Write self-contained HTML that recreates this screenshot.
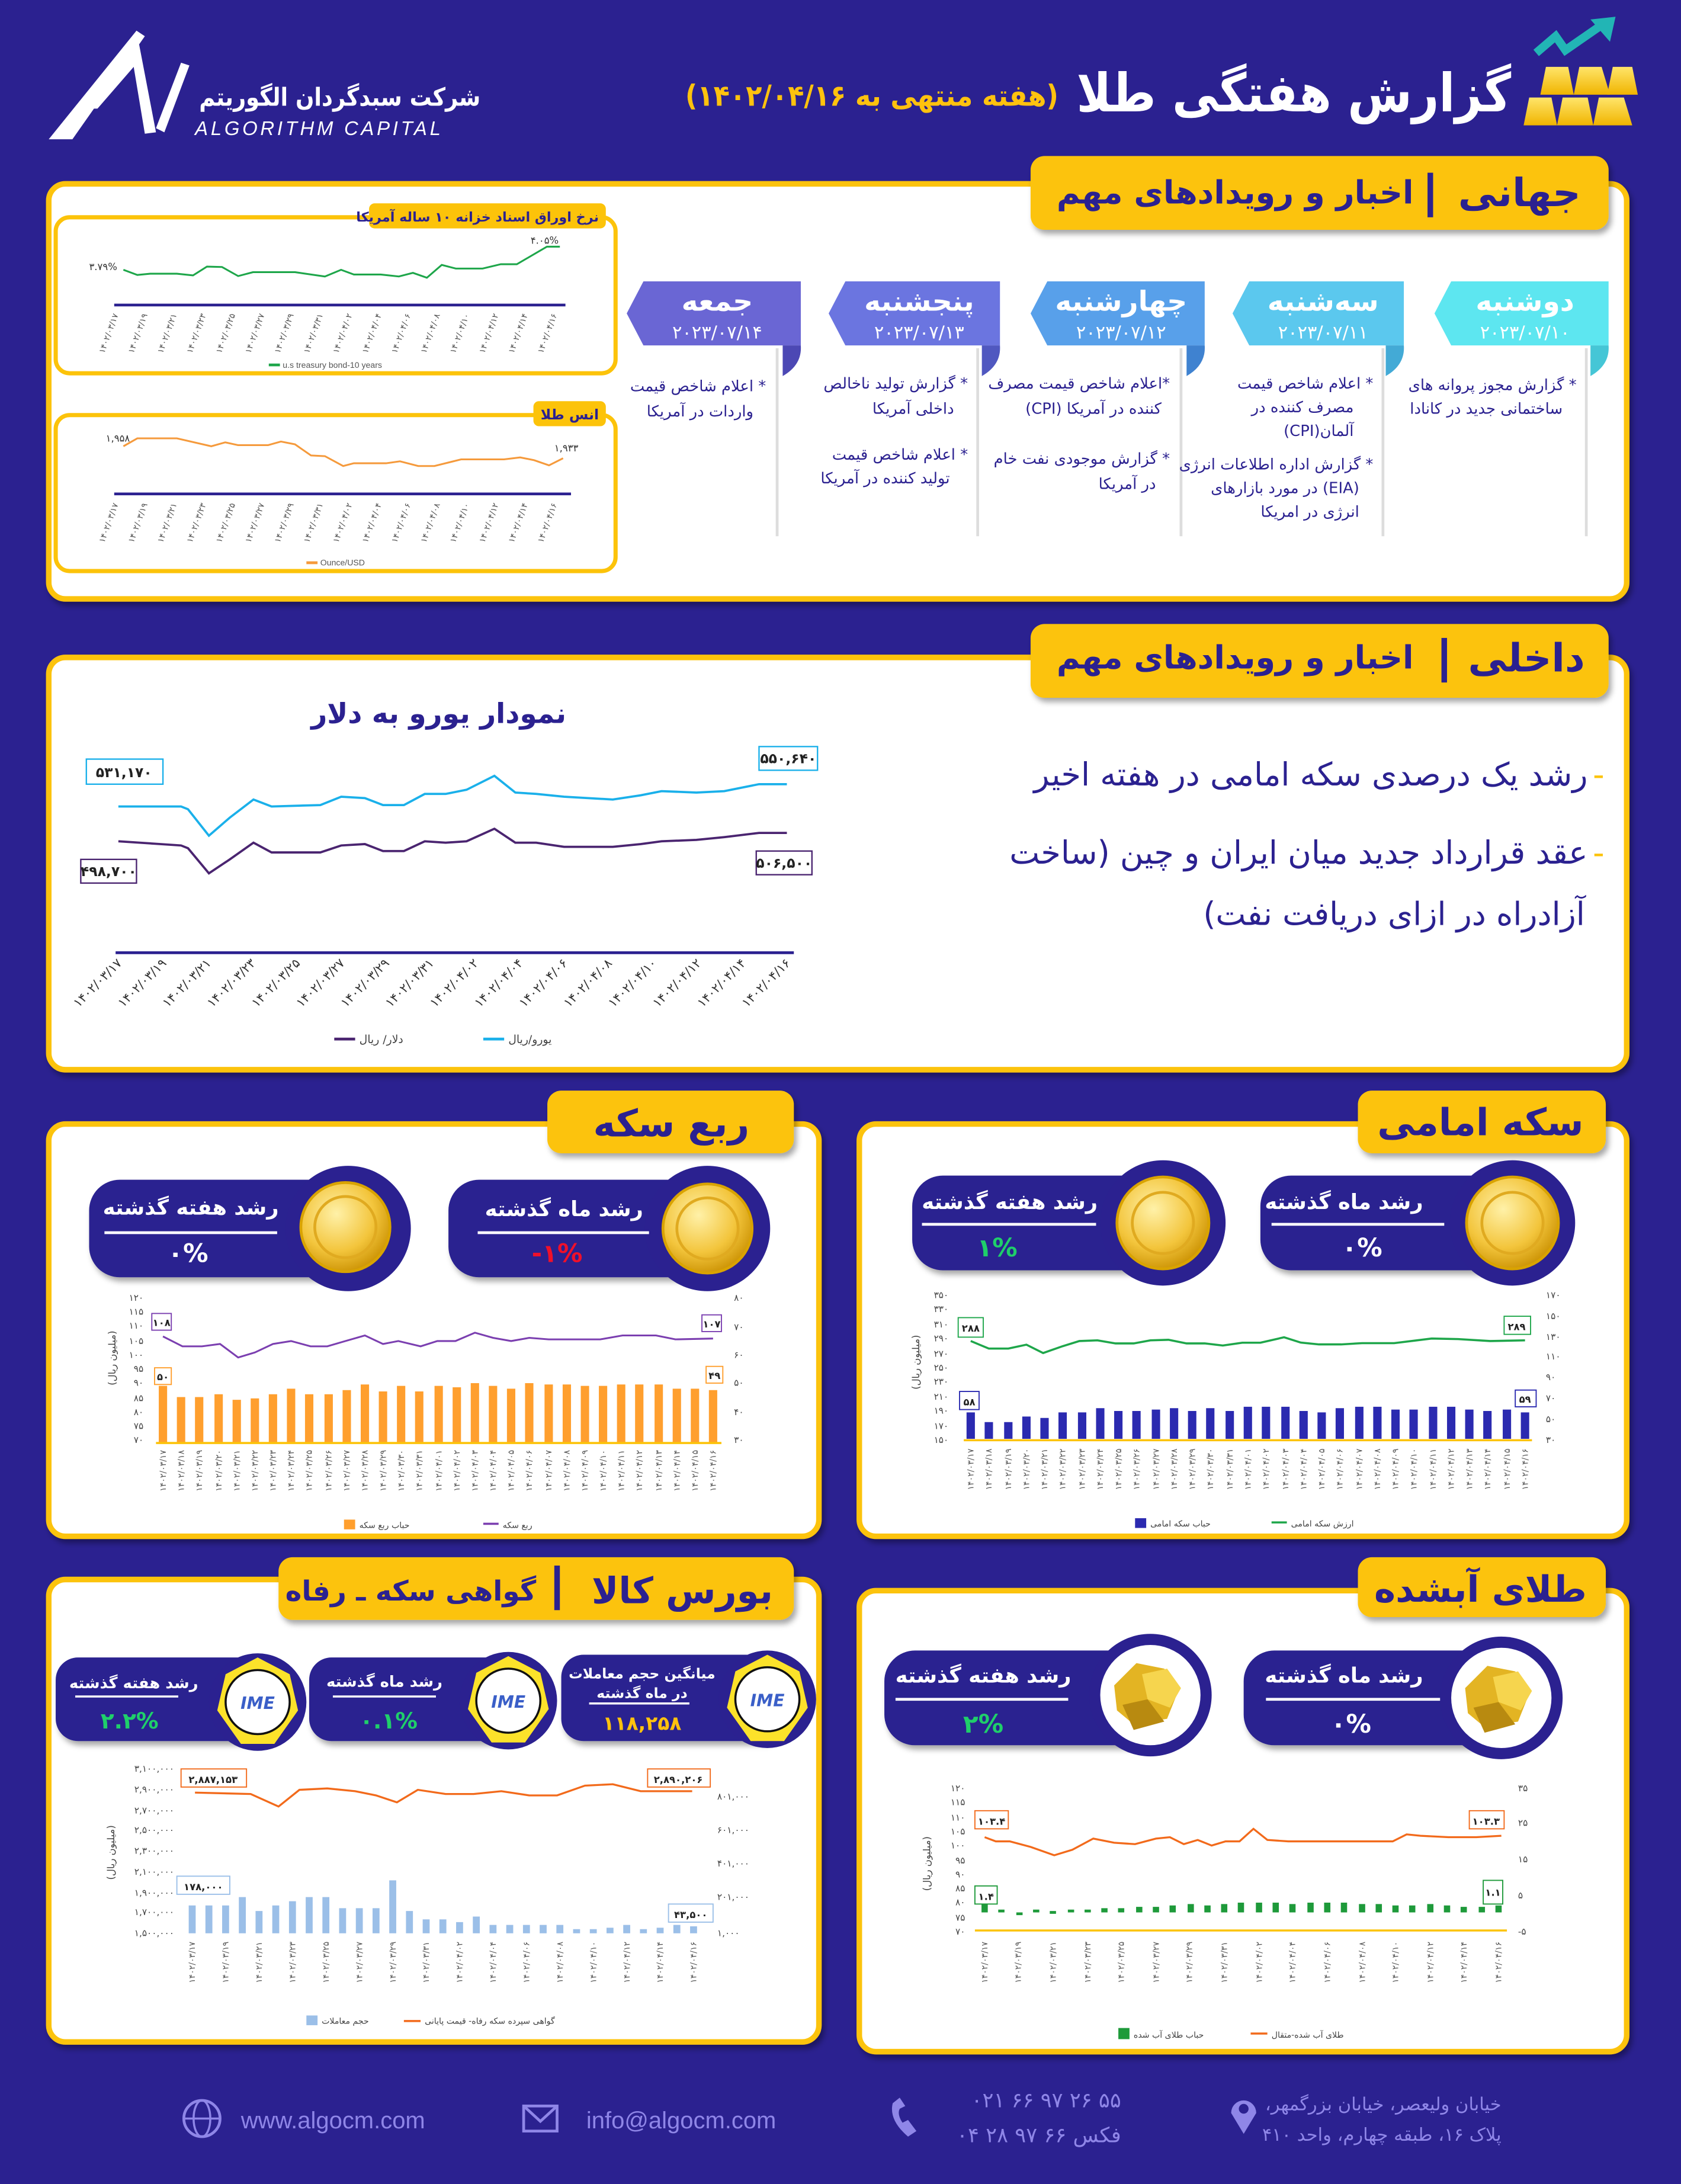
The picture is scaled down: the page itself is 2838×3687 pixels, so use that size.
<!DOCTYPE html>
<html><head><meta charset="utf-8">
<style>
html,body{margin:0;padding:0;background:#2b2190;}
svg{display:block}
text{font-family:"DejaVu Sans","Liberation Sans",sans-serif;}
.b{font-weight:bold}
.n{fill:#2b2190}
.w{fill:#fff}
.ax{font-size:6.5px;fill:#444}
.dt{font-size:6px;fill:#555}
.lg{font-size:6px;fill:#444}
</style></head><body>
<svg width="2838" height="3687" viewBox="0 0 1207 1568" preserveAspectRatio="none" xmlns="http://www.w3.org/2000/svg">
<defs>
<radialGradient id="coin" cx="40%" cy="35%" r="70%"><stop offset="0" stop-color="#fff1a8"/><stop offset="0.6" stop-color="#f3c53c"/><stop offset="1" stop-color="#c98f00"/></radialGradient>
<linearGradient id="gold" x1="0" y1="0" x2="0" y2="1"><stop offset="0" stop-color="#ffe56a"/><stop offset="1" stop-color="#f0b400"/></linearGradient>
<filter id="sh" x="-10%" y="-10%" width="120%" height="130%"><feDropShadow dx="2" dy="3" stdDeviation="2" flood-color="#000" flood-opacity="0.35"/></filter>
</defs>
<rect width="1207" height="1568" fill="#2b2190"/>

<!-- HEADER -->
<polygon points="35,100 98,22 104,26 52,100" fill="#fff"/>
<polygon points="62,78 98,22 112,95 104,96 96,48 70,78" fill="#fff"/>
<polygon points="112,92 130,45 136,47 118,95" fill="#fff"/>
<text x="345" y="76" text-anchor="end" class="b w" font-size="18" textLength="202" lengthAdjust="spacingAndGlyphs">شرکت سبدگردان الگوریتم</text>
<text x="140" y="97" font-size="14" font-style="italic" fill="#fff" letter-spacing="2" style="font-family:'Liberation Sans',sans-serif">ALGORITHM CAPITAL</text>
<text x="1085" y="80" text-anchor="end" class="b w" font-size="38" textLength="312" lengthAdjust="spacingAndGlyphs">گزارش هفتگی طلا</text>
<text x="760" y="76" direction="rtl" text-anchor="start" class="b" font-size="21" fill="#ffc20e" textLength="268" lengthAdjust="spacingAndGlyphs">(هفته منتهی به ۱۴۰۲/۰۴/۱۶)</text>
<!-- gold bars icon -->
<polygon points="1098,70 1114,70 1118,90 1094,90" fill="url(#gold)"/>
<polygon points="1122,70 1140,70 1144,90 1118,90" fill="url(#gold)"/>
<polygon points="1148,70 1166,70 1172,90 1144,90" fill="url(#gold)"/>
<polygon points="1110,48 1126,48 1130,68 1106,68" fill="url(#gold)"/>
<polygon points="1134,48 1150,48 1156,68 1130,68" fill="url(#gold)"/>
<polygon points="1158,48 1172,48 1176,68 1154,68" fill="url(#gold)"/>
<polyline points="1103,38 1117,26 1124,36 1150,18" fill="none" stroke="#22b5b5" stroke-width="6"/>
<polygon points="1142,14 1160,12 1156,30" fill="#22b5b5"/>

<!-- PANEL 1 -->
<rect x="35" y="132" width="1133" height="298" rx="12" fill="#fff" stroke="#fcc30a" stroke-width="4" filter="url(#sh)"/>
<rect x="740" y="112" width="415" height="53" rx="10" fill="#fcc30a" filter="url(#sh)"/>
<text x="1135" y="148" text-anchor="end" class="b n" font-size="28">جهانی</text>
<rect x="1025" y="124" width="4" height="32" fill="#2b2190"/>
<text x="1015" y="146" text-anchor="end" class="b n" font-size="23">اخبار و رویدادهای مهم</text>

<!-- mini chart 1 -->
<rect x="40" y="156" width="402" height="112" rx="10" fill="#fff" stroke="#fcc30a" stroke-width="3"/>
<rect x="265" y="146" width="170" height="18" rx="4" fill="#fcc30a"/>
<text x="430" y="159" text-anchor="end" class="b n" font-size="9.5">نرخ اوراق اسناد خزانه ۱۰ ساله آمریکا</text>
<polyline fill="none" stroke="#1ea64a" stroke-width="1.3" points="88.6,193.7 98.6,197.4 107.8,196.5 127,196.5 138.6,197.7 148.6,191.4 159.4,191.7 171,198.2 181.7,195.4 211.8,195.4 233.3,198.5 244.9,193.7 254.1,197.1 273.4,197.1 286.4,198.5 296.5,195.9 306.5,199.4 317.2,190.2 327.3,192.8 346.5,192.8 359.6,189.7 371.1,189.7 392.7,177.1 402,177.1"/>
<line x1="82" y1="219" x2="406" y2="219" stroke="#2b2190" stroke-width="2"/>
<text x="64" y="194" font-size="7" fill="#333">۳.۷۹%</text>
<text x="381" y="175" font-size="7" fill="#333">۴.۰۵%</text>
<g class="dt">
<text transform="translate(85,226) rotate(-70)" text-anchor="end">۱۴۰۲/۰۳/۱۷</text><text transform="translate(106,226) rotate(-70)" text-anchor="end">۱۴۰۲/۰۳/۱۹</text><text transform="translate(127,226) rotate(-70)" text-anchor="end">۱۴۰۲/۰۳/۲۱</text><text transform="translate(148,226) rotate(-70)" text-anchor="end">۱۴۰۲/۰۳/۲۳</text><text transform="translate(169,226) rotate(-70)" text-anchor="end">۱۴۰۲/۰۳/۲۵</text><text transform="translate(190,226) rotate(-70)" text-anchor="end">۱۴۰۲/۰۳/۲۷</text><text transform="translate(211,226) rotate(-70)" text-anchor="end">۱۴۰۲/۰۳/۲۹</text><text transform="translate(232,226) rotate(-70)" text-anchor="end">۱۴۰۲/۰۳/۳۱</text><text transform="translate(253,226) rotate(-70)" text-anchor="end">۱۴۰۲/۰۴/۰۲</text><text transform="translate(274,226) rotate(-70)" text-anchor="end">۱۴۰۲/۰۴/۰۴</text><text transform="translate(295,226) rotate(-70)" text-anchor="end">۱۴۰۲/۰۴/۰۶</text><text transform="translate(316,226) rotate(-70)" text-anchor="end">۱۴۰۲/۰۴/۰۸</text><text transform="translate(337,226) rotate(-70)" text-anchor="end">۱۴۰۲/۰۴/۱۰</text><text transform="translate(358,226) rotate(-70)" text-anchor="end">۱۴۰۲/۰۴/۱۲</text><text transform="translate(379,226) rotate(-70)" text-anchor="end">۱۴۰۲/۰۴/۱۴</text><text transform="translate(400,226) rotate(-70)" text-anchor="end">۱۴۰۲/۰۴/۱۶</text>
</g>
<line x1="193" y1="262" x2="201" y2="262" stroke="#1ea64a" stroke-width="2"/>
<text x="203" y="264" font-size="6" fill="#555" style="font-family:'Liberation Sans',sans-serif">u.s treasury bond-10 years</text>

<!-- mini chart 2 -->
<rect x="40" y="298" width="402" height="112" rx="10" fill="#fff" stroke="#fcc30a" stroke-width="3"/>
<rect x="383" y="288" width="52" height="18" rx="4" fill="#fcc30a"/>
<text x="430" y="301" text-anchor="end" class="b n" font-size="10">انس طلا</text>
<polyline fill="none" stroke="#f59a3c" stroke-width="1.3" points="88.6,320.4 98.6,314.7 127,314.7 151.7,320.4 161.7,317.6 170.9,319.6 192.5,319.6 201.7,317 211.8,319 223.3,327 233.3,327.5 246.4,334.6 254.1,332.6 277.2,332.6 287.2,331.2 300.3,334.6 311.9,334.6 331.1,329.8 361.9,329.8 373.5,328.4 383.5,330.4 394.2,334.1 404.3,329"/>
<line x1="82" y1="354.6" x2="410" y2="354.6" stroke="#2b2190" stroke-width="2"/>
<text x="76" y="317" font-size="7" fill="#333">۱,۹۵۸</text>
<text x="398" y="324" font-size="7" fill="#333">۱,۹۳۳</text>
<g class="dt">
<text transform="translate(85,362) rotate(-70)" text-anchor="end">۱۴۰۲/۰۳/۱۷</text><text transform="translate(106,362) rotate(-70)" text-anchor="end">۱۴۰۲/۰۳/۱۹</text><text transform="translate(127,362) rotate(-70)" text-anchor="end">۱۴۰۲/۰۳/۲۱</text><text transform="translate(148,362) rotate(-70)" text-anchor="end">۱۴۰۲/۰۳/۲۳</text><text transform="translate(169,362) rotate(-70)" text-anchor="end">۱۴۰۲/۰۳/۲۵</text><text transform="translate(190,362) rotate(-70)" text-anchor="end">۱۴۰۲/۰۳/۲۷</text><text transform="translate(211,362) rotate(-70)" text-anchor="end">۱۴۰۲/۰۳/۲۹</text><text transform="translate(232,362) rotate(-70)" text-anchor="end">۱۴۰۲/۰۳/۳۱</text><text transform="translate(253,362) rotate(-70)" text-anchor="end">۱۴۰۲/۰۴/۰۲</text><text transform="translate(274,362) rotate(-70)" text-anchor="end">۱۴۰۲/۰۴/۰۴</text><text transform="translate(295,362) rotate(-70)" text-anchor="end">۱۴۰۲/۰۴/۰۶</text><text transform="translate(316,362) rotate(-70)" text-anchor="end">۱۴۰۲/۰۴/۰۸</text><text transform="translate(337,362) rotate(-70)" text-anchor="end">۱۴۰۲/۰۴/۱۰</text><text transform="translate(358,362) rotate(-70)" text-anchor="end">۱۴۰۲/۰۴/۱۲</text><text transform="translate(379,362) rotate(-70)" text-anchor="end">۱۴۰۲/۰۴/۱۴</text><text transform="translate(400,362) rotate(-70)" text-anchor="end">۱۴۰۲/۰۴/۱۶</text>
</g>
<line x1="220" y1="404" x2="228" y2="404" stroke="#f59a3c" stroke-width="2"/>
<text x="230" y="406" font-size="6" fill="#555" style="font-family:'Liberation Sans',sans-serif">Ounce/USD</text>

<!-- day ribbons -->
<g>
<polygon points="1042,202 1155,202 1155,248 1042,248 1030,225" fill="#5de6f0"/>
<path d="M1142,248 H1155 Q1156,262 1142,270 Z" fill="#45c6d6"/>
<line x1="1139" y1="250" x2="1139" y2="385" stroke="#ddd" stroke-width="2"/>
<text x="1095" y="223" text-anchor="middle" class="b w" font-size="20">دوشنبه</text>
<text x="1095" y="243" text-anchor="middle" class="w" font-size="13">۲۰۲۳/۰۷/۱۰</text>

<polygon points="897,202 1008,202 1008,248 897,248 885,225" fill="#5bc8ee"/>
<path d="M995,248 H1008 Q1009,262 995,270 Z" fill="#43aad6"/>
<line x1="993" y1="250" x2="993" y2="385" stroke="#ddd" stroke-width="2"/>
<text x="950" y="223" text-anchor="middle" class="b w" font-size="20">سه‌شنبه</text>
<text x="950" y="243" text-anchor="middle" class="w" font-size="13">۲۰۲۳/۰۷/۱۱</text>

<polygon points="752,202 865,202 865,248 752,248 740,225" fill="#58a0ea"/>
<path d="M852,248 H865 Q866,262 852,270 Z" fill="#3f82d0"/>
<line x1="848" y1="250" x2="848" y2="385" stroke="#ddd" stroke-width="2"/>
<text x="805" y="223" text-anchor="middle" class="b w" font-size="20">چهارشنبه</text>
<text x="805" y="243" text-anchor="middle" class="w" font-size="13">۲۰۲۳/۰۷/۱۲</text>

<polygon points="607,202 718,202 718,248 607,248 595,225" fill="#6b75e0"/>
<path d="M705,248 H718 Q719,262 705,270 Z" fill="#5058c0"/>
<line x1="702" y1="250" x2="702" y2="385" stroke="#ddd" stroke-width="2"/>
<text x="660" y="223" text-anchor="middle" class="b w" font-size="20">پنجشنبه</text>
<text x="660" y="243" text-anchor="middle" class="w" font-size="13">۲۰۲۳/۰۷/۱۳</text>

<polygon points="462,202 575,202 575,248 462,248 450,225" fill="#6a66d4"/>
<path d="M562,248 H575 Q576,262 562,270 Z" fill="#4c48b4"/>
<line x1="558" y1="250" x2="558" y2="385" stroke="#ddd" stroke-width="2"/>
<text x="515" y="223" text-anchor="middle" class="b w" font-size="20">جمعه</text>
<text x="515" y="243" text-anchor="middle" class="w" font-size="13">۲۰۲۳/۰۷/۱۴</text>
</g>
<g class="n" font-size="11" direction="rtl" text-anchor="start">
<text x="1132" y="280">* گزارش مجوز پروانه های</text>
<text x="1122" y="297">ساختمانی جدید در کانادا</text>
<text x="986" y="279">* اعلام شاخص قیمت</text>
<text x="972" y="296">مصرف کننده در</text>
<text x="972" y="313">آلمان(CPI)</text>
<text x="986" y="337">* گزارش اداره اطلاعات انرژی</text>
<text x="976" y="354">(EIA) در مورد بازارهای</text>
<text x="976" y="371">انرژی در امریکا</text>
<text x="840" y="279">*اعلام شاخص قیمت مصرف</text>
<text x="834" y="297">کننده در آمریکا (CPI)</text>
<text x="840" y="333">* گزارش موجودی نفت خام</text>
<text x="830" y="351">در آمریکا</text>
<text x="695" y="279">* گزارش تولید ناخالص</text>
<text x="685" y="297">داخلی آمریکا</text>
<text x="695" y="330">* اعلام شاخص قیمت</text>
<text x="682" y="347">تولید کننده در آمریکا</text>
<text x="550" y="281">* اعلام شاخص قیمت</text>
<text x="541" y="299">واردات در آمریکا</text>
</g>

<!-- PANEL 2 -->
<rect x="35" y="472" width="1133" height="296" rx="12" fill="#fff" stroke="#fcc30a" stroke-width="4" filter="url(#sh)"/>
<rect x="740" y="448" width="415" height="53" rx="10" fill="#fcc30a" filter="url(#sh)"/>
<text x="1138" y="482" text-anchor="end" class="b n" font-size="28">داخلی</text>
<rect x="1035" y="458" width="4" height="32" fill="#2b2190"/>
<text x="1015" y="480" text-anchor="end" class="b n" font-size="23">اخبار و رویدادهای مهم</text>
<text x="315" y="519" text-anchor="middle" class="b n" font-size="20">نمودار یورو به دلار</text>
<polyline fill="none" stroke="#1ab0ea" stroke-width="1.6" points="85,579 130,579 135,581 150,600 165,587 182,574 195,579 230,578 245,572 262,573 275,578 290,578 305,570 320,570 335,567 355,557 370,569 385,570 405,572 440,574 460,571 475,568 500,569 520,568 545,563 565,563"/>
<polyline fill="none" stroke="#4a2470" stroke-width="1.6" points="85,604 130,607 135,609 150,627 165,617 182,605 195,612 230,612 245,607 262,606 275,611 290,611 305,604 320,605 335,604 355,595 370,605 385,605 405,608 440,608 460,606 475,604 500,603 520,601 545,598 565,598"/>
<line x1="83" y1="684" x2="570" y2="684" stroke="#2b2190" stroke-width="2"/>
<rect x="62" y="545" width="55" height="18" fill="#fff" stroke="#1ab0ea"/><text x="89" y="558" text-anchor="middle" font-size="10" class="b" fill="#222">۵۳۱,۱۷۰</text>
<rect x="545" y="536" width="42" height="17" fill="#fff" stroke="#1ab0ea"/><text x="566" y="548" text-anchor="middle" font-size="10" class="b" fill="#222">۵۵۰,۶۴۰</text>
<rect x="58" y="617" width="40" height="17" fill="#fff" stroke="#4a2470"/><text x="78" y="629" text-anchor="middle" font-size="10" class="b" fill="#222">۴۹۸,۷۰۰</text>
<rect x="543" y="611" width="40" height="17" fill="#fff" stroke="#4a2470"/><text x="563" y="623" text-anchor="middle" font-size="10" class="b" fill="#222">۵۰۶,۵۰۰</text>
<g font-size="9" fill="#333">
<text transform="translate(88,692) rotate(-45)" text-anchor="end">۱۴۰۲/۰۳/۱۷</text><text transform="translate(120,692) rotate(-45)" text-anchor="end">۱۴۰۲/۰۳/۱۹</text><text transform="translate(152,692) rotate(-45)" text-anchor="end">۱۴۰۲/۰۳/۲۱</text><text transform="translate(184,692) rotate(-45)" text-anchor="end">۱۴۰۲/۰۳/۲۳</text><text transform="translate(216,692) rotate(-45)" text-anchor="end">۱۴۰۲/۰۳/۲۵</text><text transform="translate(248,692) rotate(-45)" text-anchor="end">۱۴۰۲/۰۳/۲۷</text><text transform="translate(280,692) rotate(-45)" text-anchor="end">۱۴۰۲/۰۳/۲۹</text><text transform="translate(312,692) rotate(-45)" text-anchor="end">۱۴۰۲/۰۳/۳۱</text><text transform="translate(344,692) rotate(-45)" text-anchor="end">۱۴۰۲/۰۴/۰۲</text><text transform="translate(376,692) rotate(-45)" text-anchor="end">۱۴۰۲/۰۴/۰۴</text><text transform="translate(408,692) rotate(-45)" text-anchor="end">۱۴۰۲/۰۴/۰۶</text><text transform="translate(440,692) rotate(-45)" text-anchor="end">۱۴۰۲/۰۴/۰۸</text><text transform="translate(472,692) rotate(-45)" text-anchor="end">۱۴۰۲/۰۴/۱۰</text><text transform="translate(504,692) rotate(-45)" text-anchor="end">۱۴۰۲/۰۴/۱۲</text><text transform="translate(536,692) rotate(-45)" text-anchor="end">۱۴۰۲/۰۴/۱۴</text><text transform="translate(568,692) rotate(-45)" text-anchor="end">۱۴۰۲/۰۴/۱۶</text>
</g>
<line x1="240" y1="746" x2="255" y2="746" stroke="#4a2470" stroke-width="2"/><text x="258" y="749" font-size="8" fill="#444">دلار/ ریال</text>
<line x1="347" y1="746" x2="362" y2="746" stroke="#1ab0ea" stroke-width="2"/><text x="365" y="749" font-size="8" fill="#444">یورو/ریال</text>
<g direction="rtl" text-anchor="start">
<text x="1140" y="564" class="n" font-size="23">رشد یک درصدی سکه امامی در هفته اخیر</text>
<text x="1140" y="620" class="n" font-size="23">عقد قرارداد جدید میان ایران و چین (ساخت</text>
<text x="1138" y="664" class="n" font-size="23">آزادراه در ازای دریافت نفت)</text>
</g>
<text x="1152" y="564" text-anchor="end" font-size="23" fill="#fcc30a">-</text>
<text x="1152" y="620" text-anchor="end" font-size="23" fill="#fcc30a">-</text>

<!-- PANEL 3: rob seke -->
<rect x="35" y="807" width="553" height="296" rx="12" fill="#fff" stroke="#fcc30a" stroke-width="4" filter="url(#sh)"/>
<rect x="393" y="783" width="177" height="45" rx="10" fill="#fcc30a" filter="url(#sh)"/>
<text x="482" y="816" text-anchor="middle" class="b n" font-size="27">ربع سکه</text>
<rect x="322" y="847" width="200" height="70" rx="22" fill="#2b2190" filter="url(#sh)"/>
<circle cx="508" cy="882" r="45" fill="#2b2190"/>
<circle cx="508" cy="882" r="32" fill="url(#coin)" stroke="#d9a300" stroke-width="2"/>
<circle cx="508" cy="882" r="22" fill="none" stroke="#e0aa20" stroke-width="2"/>
<text x="405" y="873" text-anchor="middle" class="b w" font-size="15">رشد ماه گذشته</text>
<line x1="343" y1="885" x2="466" y2="885" stroke="#fff" stroke-width="2"/>
<text x="400" y="906" text-anchor="middle" class="b" font-size="18" fill="#f0102a">-۱%</text>
<rect x="64" y="847" width="200" height="70" rx="22" fill="#2b2190" filter="url(#sh)"/>
<circle cx="250" cy="882" r="45" fill="#2b2190"/>
<circle cx="248" cy="881" r="32" fill="url(#coin)" stroke="#d9a300" stroke-width="2"/>
<circle cx="248" cy="881" r="22" fill="none" stroke="#e0aa20" stroke-width="2"/>
<text x="137" y="872" text-anchor="middle" class="b w" font-size="15">رشد هفته گذشته</text>
<line x1="75" y1="885" x2="199" y2="885" stroke="#fff" stroke-width="2"/>
<text x="135" y="906" text-anchor="middle" class="b w" font-size="18">۰%</text>
<path fill="none" stroke="#ff9f2e" stroke-width="6" d="M117 995V1036M130 1003V1036M143 1003V1036M157 1001V1036M170 1005V1036M183 1004V1036M196 1001V1036M209 997V1036M222 1001V1036M236 1001V1036M249 998V1036M262 994V1036M275 999V1036M288 995V1036M301 999V1036M315 995V1036M328 996V1036M341 993V1036M354 995V1036M367 997V1036M380 993V1036M394 994V1036M407 994V1036M420 995V1036M433 995V1036M446 994V1036M459 994V1036M473 994V1036M486 997V1036M499 997V1036M512 998V1036"/>
<line x1="112" y1="1036" x2="518" y2="1036" stroke="#fcc30a" stroke-width="1.5"/>
<polyline fill="none" stroke="#7b3fb0" stroke-width="1.3" points="117,959.5 131,966.6 145,966.6 158,964.9 171,974.6 183,971 196,964.9 209,962.8 223,966.6 235,966.6 248,962.8 262,958.8 275,964.9 286,962.8 302,966.6 314,962.8 327,962.8 341,956.8 354,960.5 367,962.8 380,960.5 394,961.6 431,961.6 447,958.8 471,958.8 485,961.6 512,961"/>
<rect x="109" y="943" width="14" height="12" fill="#fff" stroke="#7b3fb0" stroke-width="0.8"/><text x="116" y="952" text-anchor="middle" font-size="7" class="b" fill="#222">۱۰۸</text>
<rect x="504" y="944" width="14" height="12" fill="#fff" stroke="#7b3fb0" stroke-width="0.8"/><text x="511" y="953" text-anchor="middle" font-size="7" class="b" fill="#222">۱۰۷</text>
<rect x="111" y="982" width="12" height="12" fill="#fff" stroke="#ff9f2e" stroke-width="0.8"/><text x="117" y="991" text-anchor="middle" font-size="7" class="b" fill="#222">۵۰</text>
<rect x="507" y="981" width="12" height="12" fill="#fff" stroke="#ff9f2e" stroke-width="0.8"/><text x="513" y="990" text-anchor="middle" font-size="7" class="b" fill="#222">۴۹</text>
<g class="ax" text-anchor="end">
<text x="103" y="934">۱۲۰</text><text x="103" y="944">۱۱۵</text><text x="103" y="954">۱۱۰</text><text x="103" y="965">۱۰۵</text><text x="103" y="975">۱۰۰</text><text x="103" y="985">۹۵</text><text x="103" y="995">۹۰</text><text x="103" y="1006">۸۵</text><text x="103" y="1016">۸۰</text><text x="103" y="1026">۷۵</text><text x="103" y="1036">۷۰</text>
</g>
<g class="ax"><text x="527" y="934">۸۰</text><text x="527" y="955">۷۰</text><text x="527" y="975">۶۰</text><text x="527" y="995">۵۰</text><text x="527" y="1016">۴۰</text><text x="527" y="1036">۳۰</text></g>
<text transform="translate(83,975) rotate(-90)" direction="rtl" text-anchor="middle" font-size="7" fill="#444">(میلیون ریال)</text>
<g class="dt">
<text transform="translate(119,1041) rotate(-90)" text-anchor="end">۱۴۰۲/۰۳/۱۷</text><text transform="translate(132,1041) rotate(-90)" text-anchor="end">۱۴۰۲/۰۳/۱۸</text><text transform="translate(145,1041) rotate(-90)" text-anchor="end">۱۴۰۲/۰۳/۱۹</text><text transform="translate(159,1041) rotate(-90)" text-anchor="end">۱۴۰۲/۰۳/۲۰</text><text transform="translate(172,1041) rotate(-90)" text-anchor="end">۱۴۰۲/۰۳/۲۱</text><text transform="translate(185,1041) rotate(-90)" text-anchor="end">۱۴۰۲/۰۳/۲۲</text><text transform="translate(198,1041) rotate(-90)" text-anchor="end">۱۴۰۲/۰۳/۲۳</text><text transform="translate(211,1041) rotate(-90)" text-anchor="end">۱۴۰۲/۰۳/۲۴</text><text transform="translate(224,1041) rotate(-90)" text-anchor="end">۱۴۰۲/۰۳/۲۵</text><text transform="translate(238,1041) rotate(-90)" text-anchor="end">۱۴۰۲/۰۳/۲۶</text><text transform="translate(251,1041) rotate(-90)" text-anchor="end">۱۴۰۲/۰۳/۲۷</text><text transform="translate(264,1041) rotate(-90)" text-anchor="end">۱۴۰۲/۰۳/۲۸</text><text transform="translate(277,1041) rotate(-90)" text-anchor="end">۱۴۰۲/۰۳/۲۹</text><text transform="translate(290,1041) rotate(-90)" text-anchor="end">۱۴۰۲/۰۳/۳۰</text><text transform="translate(303,1041) rotate(-90)" text-anchor="end">۱۴۰۲/۰۳/۳۱</text><text transform="translate(317,1041) rotate(-90)" text-anchor="end">۱۴۰۲/۰۴/۰۱</text><text transform="translate(330,1041) rotate(-90)" text-anchor="end">۱۴۰۲/۰۴/۰۲</text><text transform="translate(343,1041) rotate(-90)" text-anchor="end">۱۴۰۲/۰۴/۰۳</text><text transform="translate(356,1041) rotate(-90)" text-anchor="end">۱۴۰۲/۰۴/۰۴</text><text transform="translate(369,1041) rotate(-90)" text-anchor="end">۱۴۰۲/۰۴/۰۵</text><text transform="translate(382,1041) rotate(-90)" text-anchor="end">۱۴۰۲/۰۴/۰۶</text><text transform="translate(396,1041) rotate(-90)" text-anchor="end">۱۴۰۲/۰۴/۰۷</text><text transform="translate(409,1041) rotate(-90)" text-anchor="end">۱۴۰۲/۰۴/۰۸</text><text transform="translate(422,1041) rotate(-90)" text-anchor="end">۱۴۰۲/۰۴/۰۹</text><text transform="translate(435,1041) rotate(-90)" text-anchor="end">۱۴۰۲/۰۴/۱۰</text><text transform="translate(448,1041) rotate(-90)" text-anchor="end">۱۴۰۲/۰۴/۱۱</text><text transform="translate(461,1041) rotate(-90)" text-anchor="end">۱۴۰۲/۰۴/۱۲</text><text transform="translate(475,1041) rotate(-90)" text-anchor="end">۱۴۰۲/۰۴/۱۳</text><text transform="translate(488,1041) rotate(-90)" text-anchor="end">۱۴۰۲/۰۴/۱۴</text><text transform="translate(501,1041) rotate(-90)" text-anchor="end">۱۴۰۲/۰۴/۱۵</text><text transform="translate(514,1041) rotate(-90)" text-anchor="end">۱۴۰۲/۰۴/۱۶</text>
</g>
<rect x="247" y="1091" width="8" height="7" fill="#ff9f2e"/><text x="258" y="1097" class="lg">حباب ربع سکه</text>
<line x1="347" y1="1094" x2="358" y2="1094" stroke="#7b3fb0" stroke-width="1.5"/><text x="361" y="1097" class="lg">ربع سکه</text>

<!-- PANEL 4: emami -->
<rect x="617" y="807" width="551" height="296" rx="12" fill="#fff" stroke="#fcc30a" stroke-width="4" filter="url(#sh)"/>
<rect x="975" y="783" width="178" height="45" rx="10" fill="#fcc30a" filter="url(#sh)"/>
<text x="1063" y="815" text-anchor="middle" class="b n" font-size="27">سکه امامی</text>
<rect x="905" y="844" width="200" height="68" rx="22" fill="#2b2190" filter="url(#sh)"/>
<circle cx="1086" cy="878" r="45" fill="#2b2190"/>
<circle cx="1086" cy="878" r="33" fill="url(#coin)" stroke="#d9a300" stroke-width="2"/>
<circle cx="1086" cy="878" r="22" fill="none" stroke="#e0aa20" stroke-width="2"/>
<text x="965" y="868" text-anchor="middle" class="b w" font-size="15">رشد ماه گذشته</text>
<line x1="913" y1="879" x2="1037" y2="879" stroke="#fff" stroke-width="2"/>
<text x="978" y="902" text-anchor="middle" class="b w" font-size="18">۰%</text>
<rect x="655" y="844" width="200" height="68" rx="22" fill="#2b2190" filter="url(#sh)"/>
<circle cx="835" cy="878" r="45" fill="#2b2190"/>
<circle cx="835" cy="878" r="33" fill="url(#coin)" stroke="#d9a300" stroke-width="2"/>
<circle cx="835" cy="878" r="22" fill="none" stroke="#e0aa20" stroke-width="2"/>
<text x="725" y="868" text-anchor="middle" class="b w" font-size="15">رشد هفته گذشته</text>
<line x1="662" y1="879" x2="787" y2="879" stroke="#fff" stroke-width="2"/>
<text x="716" y="902" text-anchor="middle" class="b" font-size="18" fill="#1fcf6a">۱%</text>
<path fill="none" stroke="#2b2ab0" stroke-width="6" d="M697 1014V1033M710 1021V1033M724 1021V1033M737 1017V1033M750 1018V1033M763 1014V1033M777 1014V1033M790 1011V1033M803 1013V1033M816 1013V1033M830 1012V1033M843 1011V1033M856 1013V1033M869 1011V1033M883 1013V1033M896 1010V1033M909 1010V1033M923 1010V1033M936 1013V1033M949 1014V1033M962 1011V1033M976 1010V1033M989 1010V1033M1002 1012V1033M1015 1012V1033M1029 1010V1033M1042 1010V1033M1055 1012V1033M1068 1013V1033M1082 1012V1033M1095 1014V1033"/>
<line x1="692" y1="1034" x2="1100" y2="1034" stroke="#fcc30a" stroke-width="1.5"/>
<polyline fill="none" stroke="#1ea64a" stroke-width="1.5" points="697,962.8 710,968.2 724,968.2 737,965.4 749,971.4 763,966.5 775,962.8 788,962.3 801,964.5 814,964.5 826,962.3 839,961.9 852,964.5 865,964.5 878,966 892,964 905,964 922,960.1 934,963.9 947,965.2 963,965.2 978,964.3 1001,964.3 1028,961 1047,961.4 1070,962.8 1095,962.3"/>
<rect x="688" y="946" width="18" height="14" fill="#fff" stroke="#1ea64a" stroke-width="0.8"/><text x="697" y="956" text-anchor="middle" font-size="7" class="b" fill="#222">۲۸۸</text>
<rect x="1080" y="945" width="19" height="13" fill="#fff" stroke="#1ea64a" stroke-width="0.8"/><text x="1089" y="955" text-anchor="middle" font-size="7" class="b" fill="#222">۲۸۹</text>
<rect x="689" y="999" width="14" height="13" fill="#fff" stroke="#2b2ab0" stroke-width="0.8"/><text x="696" y="1009" text-anchor="middle" font-size="7" class="b" fill="#222">۵۸</text>
<rect x="1088" y="998" width="15" height="12" fill="#fff" stroke="#2b2ab0" stroke-width="0.8"/><text x="1095" y="1007" text-anchor="middle" font-size="7" class="b" fill="#222">۵۹</text>
<g class="ax" text-anchor="end">
<text x="681" y="932">۳۵۰</text><text x="681" y="942">۳۳۰</text><text x="681" y="953">۳۱۰</text><text x="681" y="963">۲۹۰</text><text x="681" y="974">۲۷۰</text><text x="681" y="984">۲۵۰</text><text x="681" y="994">۲۳۰</text><text x="681" y="1005">۲۱۰</text><text x="681" y="1015">۱۹۰</text><text x="681" y="1026">۱۷۰</text><text x="681" y="1036">۱۵۰</text>
</g>
<g class="ax"><text x="1110" y="932">۱۷۰</text><text x="1110" y="947">۱۵۰</text><text x="1110" y="962">۱۳۰</text><text x="1110" y="976">۱۱۰</text><text x="1110" y="991">۹۰</text><text x="1110" y="1006">۷۰</text><text x="1110" y="1021">۵۰</text><text x="1110" y="1036">۳۰</text></g>
<text transform="translate(660,978) rotate(-90)" direction="rtl" text-anchor="middle" font-size="7" fill="#444">(میلیون ریال)</text>
<g class="dt">
<text transform="translate(699,1040) rotate(-90)" text-anchor="end">۱۴۰۲/۰۳/۱۷</text><text transform="translate(712,1040) rotate(-90)" text-anchor="end">۱۴۰۲/۰۳/۱۸</text><text transform="translate(726,1040) rotate(-90)" text-anchor="end">۱۴۰۲/۰۳/۱۹</text><text transform="translate(739,1040) rotate(-90)" text-anchor="end">۱۴۰۲/۰۳/۲۰</text><text transform="translate(752,1040) rotate(-90)" text-anchor="end">۱۴۰۲/۰۳/۲۱</text><text transform="translate(765,1040) rotate(-90)" text-anchor="end">۱۴۰۲/۰۳/۲۲</text><text transform="translate(779,1040) rotate(-90)" text-anchor="end">۱۴۰۲/۰۳/۲۳</text><text transform="translate(792,1040) rotate(-90)" text-anchor="end">۱۴۰۲/۰۳/۲۴</text><text transform="translate(805,1040) rotate(-90)" text-anchor="end">۱۴۰۲/۰۳/۲۵</text><text transform="translate(818,1040) rotate(-90)" text-anchor="end">۱۴۰۲/۰۳/۲۶</text><text transform="translate(832,1040) rotate(-90)" text-anchor="end">۱۴۰۲/۰۳/۲۷</text><text transform="translate(845,1040) rotate(-90)" text-anchor="end">۱۴۰۲/۰۳/۲۸</text><text transform="translate(858,1040) rotate(-90)" text-anchor="end">۱۴۰۲/۰۳/۲۹</text><text transform="translate(871,1040) rotate(-90)" text-anchor="end">۱۴۰۲/۰۳/۳۰</text><text transform="translate(885,1040) rotate(-90)" text-anchor="end">۱۴۰۲/۰۳/۳۱</text><text transform="translate(898,1040) rotate(-90)" text-anchor="end">۱۴۰۲/۰۴/۰۱</text><text transform="translate(911,1040) rotate(-90)" text-anchor="end">۱۴۰۲/۰۴/۰۲</text><text transform="translate(925,1040) rotate(-90)" text-anchor="end">۱۴۰۲/۰۴/۰۳</text><text transform="translate(938,1040) rotate(-90)" text-anchor="end">۱۴۰۲/۰۴/۰۴</text><text transform="translate(951,1040) rotate(-90)" text-anchor="end">۱۴۰۲/۰۴/۰۵</text><text transform="translate(964,1040) rotate(-90)" text-anchor="end">۱۴۰۲/۰۴/۰۶</text><text transform="translate(978,1040) rotate(-90)" text-anchor="end">۱۴۰۲/۰۴/۰۷</text><text transform="translate(991,1040) rotate(-90)" text-anchor="end">۱۴۰۲/۰۴/۰۸</text><text transform="translate(1004,1040) rotate(-90)" text-anchor="end">۱۴۰۲/۰۴/۰۹</text><text transform="translate(1017,1040) rotate(-90)" text-anchor="end">۱۴۰۲/۰۴/۱۰</text><text transform="translate(1031,1040) rotate(-90)" text-anchor="end">۱۴۰۲/۰۴/۱۱</text><text transform="translate(1044,1040) rotate(-90)" text-anchor="end">۱۴۰۲/۰۴/۱۲</text><text transform="translate(1057,1040) rotate(-90)" text-anchor="end">۱۴۰۲/۰۴/۱۳</text><text transform="translate(1070,1040) rotate(-90)" text-anchor="end">۱۴۰۲/۰۴/۱۴</text><text transform="translate(1084,1040) rotate(-90)" text-anchor="end">۱۴۰۲/۰۴/۱۵</text><text transform="translate(1097,1040) rotate(-90)" text-anchor="end">۱۴۰۲/۰۴/۱۶</text>
</g>
<rect x="815" y="1090" width="8" height="7" fill="#2b2ab0"/><text x="826" y="1096" class="lg">حباب سکه امامی</text>
<line x1="913" y1="1093" x2="924" y2="1093" stroke="#1ea64a" stroke-width="1.5"/><text x="927" y="1096" class="lg">ارزش سکه امامی</text>

<!-- PANEL 5: bourse -->
<rect x="35" y="1134" width="553" height="332" rx="12" fill="#fff" stroke="#fcc30a" stroke-width="4" filter="url(#sh)"/>
<rect x="200" y="1118" width="370" height="45" rx="10" fill="#fcc30a" filter="url(#sh)"/>
<text x="555" y="1151" text-anchor="end" class="b n" font-size="26">بورس کالا</text>
<rect x="398" y="1124" width="4" height="32" fill="#2b2190"/>
<text x="385" y="1149" text-anchor="end" class="b n" font-size="20">گواهی سکه ـ رفاه</text>
<g>
<rect x="403" y="1188" width="160" height="62" rx="16" fill="#2b2190" filter="url(#sh)"/>
<circle cx="551" cy="1220" r="35" fill="#2b2190"/>
<polygon points="551,1188 574,1200 580,1226 563,1250 539,1250 522,1226 528,1200" fill="#fce22a"/>
<circle cx="551" cy="1220" r="23" fill="#fff" stroke="#111" stroke-width="1.5"/>
<text x="551" y="1225" text-anchor="middle" class="b" font-size="12" fill="#3a5fc8" font-style="italic">IME</text>
<text x="461" y="1205" text-anchor="middle" class="b w" font-size="10">میانگین حجم معاملات</text>
<text x="461" y="1219" text-anchor="middle" class="b w" font-size="10">در ماه گذشته</text>
<line x1="423" y1="1223" x2="495" y2="1223" stroke="#fff" stroke-width="1.5"/>
<text x="461" y="1242" text-anchor="middle" class="b" font-size="14" fill="#ffc20e">۱۱۸,۲۵۸</text>

<rect x="222" y="1190" width="155" height="60" rx="16" fill="#2b2190" filter="url(#sh)"/>
<circle cx="365" cy="1221" r="35" fill="#2b2190"/>
<polygon points="365,1189 388,1201 394,1227 377,1251 353,1251 336,1227 342,1201" fill="#fce22a"/>
<circle cx="365" cy="1221" r="23" fill="#fff" stroke="#111" stroke-width="1.5"/>
<text x="365" y="1226" text-anchor="middle" class="b" font-size="12" fill="#3a5fc8" font-style="italic">IME</text>
<text x="276" y="1211" text-anchor="middle" class="b w" font-size="11">رشد ماه گذشته</text>
<line x1="239" y1="1218" x2="313" y2="1218" stroke="#fff" stroke-width="1.5"/>
<text x="279" y="1241" text-anchor="middle" class="b" font-size="16" fill="#1fcf6a">۰.۱%</text>

<rect x="40" y="1190" width="155" height="60" rx="16" fill="#2b2190" filter="url(#sh)"/>
<circle cx="185" cy="1222" r="35" fill="#2b2190"/>
<polygon points="185,1190 208,1202 214,1228 197,1252 173,1252 156,1228 162,1202" fill="#fce22a"/>
<circle cx="185" cy="1222" r="23" fill="#fff" stroke="#111" stroke-width="1.5"/>
<text x="185" y="1227" text-anchor="middle" class="b" font-size="12" fill="#3a5fc8" font-style="italic">IME</text>
<text x="96" y="1212" text-anchor="middle" class="b w" font-size="11">رشد هفته گذشته</text>
<line x1="54" y1="1218" x2="128" y2="1218" stroke="#fff" stroke-width="1.5"/>
<text x="93" y="1241" text-anchor="middle" class="b" font-size="16" fill="#1fcf6a">۲.۲%</text>
</g>
<path fill="none" stroke="#9bbfe8" stroke-width="5" d="M138 1368V1388M150 1368V1388M162 1368V1388M174 1362V1388M186 1372V1388M198 1368V1388M210 1365V1388M222 1362V1388M234 1362V1388M246 1370V1388M258 1370V1388M270 1370V1388M282 1350V1388M294 1372V1388M306 1378V1388M318 1378V1388M330 1380V1388M342 1376V1388M354 1382V1388M366 1382V1388M378 1382V1388M390 1382V1388M402 1382V1388M414 1385V1388M426 1385V1388M438 1384V1388M450 1382V1388M462 1385V1388M474 1384V1388M486 1382V1388M498 1383V1388"/>
<polyline fill="none" stroke="#f26a1b" stroke-width="1.4" points="140,1287 180,1288 200,1297 215,1285 235,1284 255,1286 270,1289 285,1294 300,1285 320,1288 340,1288 360,1286 380,1289 400,1289 420,1282 440,1281 460,1286 497,1286"/>
<rect x="130" y="1270" width="47" height="13" fill="#fff" stroke="#f26a1b" stroke-width="0.8"/><text x="153" y="1280" text-anchor="middle" font-size="7" class="b" fill="#222">۲,۸۸۷,۱۵۳</text>
<rect x="465" y="1270" width="45" height="13" fill="#fff" stroke="#f26a1b" stroke-width="0.8"/><text x="487" y="1280" text-anchor="middle" font-size="7" class="b" fill="#222">۲,۸۹۰,۲۰۶</text>
<rect x="127" y="1347" width="38" height="13" fill="#fff" stroke="#9bbfe8" stroke-width="0.8"/><text x="146" y="1357" text-anchor="middle" font-size="7" class="b" fill="#222">۱۷۸,۰۰۰</text>
<rect x="480" y="1367" width="32" height="13" fill="#fff" stroke="#9bbfe8" stroke-width="0.8"/><text x="496" y="1377" text-anchor="middle" font-size="7" class="b" fill="#222">۴۳,۵۰۰</text>
<g class="ax" text-anchor="end">
<text x="125" y="1272">۳,۱۰۰,۰۰۰</text><text x="125" y="1287">۲,۹۰۰,۰۰۰</text><text x="125" y="1302">۲,۷۰۰,۰۰۰</text><text x="125" y="1316">۲,۵۰۰,۰۰۰</text><text x="125" y="1331">۲,۳۰۰,۰۰۰</text><text x="125" y="1346">۲,۱۰۰,۰۰۰</text><text x="125" y="1361">۱,۹۰۰,۰۰۰</text><text x="125" y="1375">۱,۷۰۰,۰۰۰</text><text x="125" y="1390">۱,۵۰۰,۰۰۰</text>
</g>
<g class="ax"><text x="515" y="1292">۸۰۱,۰۰۰</text><text x="515" y="1316">۶۰۱,۰۰۰</text><text x="515" y="1340">۴۰۱,۰۰۰</text><text x="515" y="1364">۲۰۱,۰۰۰</text><text x="515" y="1390">۱,۰۰۰</text></g>
<text transform="translate(82,1330) rotate(-90)" direction="rtl" text-anchor="middle" font-size="7" fill="#444">(میلیون ریال)</text>
<g class="dt">
<text transform="translate(140,1394) rotate(-90)" text-anchor="end">۱۴۰۲/۰۳/۱۷</text><text transform="translate(164,1394) rotate(-90)" text-anchor="end">۱۴۰۲/۰۳/۱۹</text><text transform="translate(188,1394) rotate(-90)" text-anchor="end">۱۴۰۲/۰۳/۲۱</text><text transform="translate(212,1394) rotate(-90)" text-anchor="end">۱۴۰۲/۰۳/۲۳</text><text transform="translate(236,1394) rotate(-90)" text-anchor="end">۱۴۰۲/۰۳/۲۵</text><text transform="translate(260,1394) rotate(-90)" text-anchor="end">۱۴۰۲/۰۳/۲۷</text><text transform="translate(284,1394) rotate(-90)" text-anchor="end">۱۴۰۲/۰۳/۲۹</text><text transform="translate(308,1394) rotate(-90)" text-anchor="end">۱۴۰۲/۰۳/۳۱</text><text transform="translate(332,1394) rotate(-90)" text-anchor="end">۱۴۰۲/۰۴/۰۲</text><text transform="translate(356,1394) rotate(-90)" text-anchor="end">۱۴۰۲/۰۴/۰۴</text><text transform="translate(380,1394) rotate(-90)" text-anchor="end">۱۴۰۲/۰۴/۰۶</text><text transform="translate(404,1394) rotate(-90)" text-anchor="end">۱۴۰۲/۰۴/۰۸</text><text transform="translate(428,1394) rotate(-90)" text-anchor="end">۱۴۰۲/۰۴/۱۰</text><text transform="translate(452,1394) rotate(-90)" text-anchor="end">۱۴۰۲/۰۴/۱۲</text><text transform="translate(476,1394) rotate(-90)" text-anchor="end">۱۴۰۲/۰۴/۱۴</text><text transform="translate(500,1394) rotate(-90)" text-anchor="end">۱۴۰۲/۰۴/۱۶</text>
</g>
<rect x="220" y="1447" width="8" height="7" fill="#9bbfe8"/><text x="231" y="1453" class="lg">حجم معاملات</text>
<line x1="290" y1="1451" x2="302" y2="1451" stroke="#f26a1b" stroke-width="1.5"/><text x="305" y="1453" class="lg">گواهی سپرده سکه رفاه- قیمت پایانی</text>

<!-- PANEL 6: gold melt -->
<rect x="617" y="1142" width="551" height="331" rx="12" fill="#fff" stroke="#fcc30a" stroke-width="4" filter="url(#sh)"/>
<rect x="975" y="1118" width="178" height="43" rx="10" fill="#fcc30a" filter="url(#sh)"/>
<text x="1063" y="1150" text-anchor="middle" class="b n" font-size="26">طلای آبشده</text>
<rect x="893" y="1185" width="200" height="68" rx="22" fill="#2b2190" filter="url(#sh)"/>
<circle cx="1078" cy="1219" r="44" fill="#2b2190"/>
<circle cx="1078" cy="1219" r="36" fill="#fff"/>
<polygon points="1052,1212 1068,1196 1088,1200 1098,1216 1090,1236 1066,1240 1054,1230" fill="#e3b423"/>
<polygon points="1072,1204 1090,1200 1100,1214 1092,1228 1076,1222" fill="#f6d54e"/>
<polygon points="1058,1226 1076,1222 1088,1238 1066,1244" fill="#b88a10"/>
<text x="965" y="1208" text-anchor="middle" class="b w" font-size="15">رشد ماه گذشته</text>
<line x1="909" y1="1220" x2="1034" y2="1220" stroke="#fff" stroke-width="2"/>
<text x="970" y="1244" text-anchor="middle" class="b w" font-size="18">۰%</text>
<rect x="635" y="1185" width="200" height="68" rx="22" fill="#2b2190" filter="url(#sh)"/>
<circle cx="826" cy="1217" r="44" fill="#2b2190"/>
<circle cx="826" cy="1217" r="36" fill="#fff"/>
<polygon points="800,1210 816,1194 836,1198 846,1214 838,1234 814,1238 802,1228" fill="#e3b423"/>
<polygon points="820,1202 838,1198 848,1212 840,1226 824,1220" fill="#f6d54e"/>
<polygon points="806,1224 824,1220 836,1236 814,1242" fill="#b88a10"/>
<text x="706" y="1208" text-anchor="middle" class="b w" font-size="15">رشد هفته گذشته</text>
<line x1="643" y1="1220" x2="767" y2="1220" stroke="#fff" stroke-width="2"/>
<text x="706" y="1244" text-anchor="middle" class="b" font-size="18" fill="#1fcf6a">۲%</text>
<path fill="none" stroke="#1e9a3a" stroke-width="4.5" d="M707 1366V1373M719 1371V1373M732 1373V1375M744 1371V1373M756 1372V1374M769 1371V1373M781 1371V1373M793 1370V1373M805 1370V1373M818 1369V1373M830 1369V1373M842 1368V1373M855 1367V1373M867 1368V1373M879 1367V1373M891 1366V1373M904 1366V1373M916 1366V1373M928 1367V1373M941 1366V1373M953 1366V1373M965 1366V1373M978 1367V1373M990 1367V1373M1002 1368V1373M1014 1368V1373M1027 1367V1373M1039 1368V1373M1051 1369V1373M1064 1369V1373M1076 1368V1373"/>
<line x1="700" y1="1386" x2="1082" y2="1386" stroke="#fcc30a" stroke-width="1.5"/>
<polyline fill="none" stroke="#f26a1b" stroke-width="1.4" points="707,1319 715,1322 725,1322 740,1326 757,1332 770,1328 785,1320 800,1323 815,1324 830,1320 840,1319 850,1324 860,1321 870,1325 880,1322 890,1322 900,1313 910,1321 925,1322 960,1322 1000,1322 1010,1317 1020,1318 1040,1319 1060,1319 1078,1318"/>
<rect x="700" y="1300" width="24" height="13" fill="#fff" stroke="#f26a1b" stroke-width="0.8"/><text x="712" y="1310" text-anchor="middle" font-size="7" class="b" fill="#222">۱۰۳.۴</text>
<rect x="1055" y="1300" width="25" height="13" fill="#fff" stroke="#f26a1b" stroke-width="0.8"/><text x="1067" y="1310" text-anchor="middle" font-size="7" class="b" fill="#222">۱۰۳.۳</text>
<rect x="700" y="1354" width="16" height="13" fill="#fff" stroke="#1e9a3a" stroke-width="0.8"/><text x="708" y="1364" text-anchor="middle" font-size="7" class="b" fill="#222">۱.۴</text>
<rect x="1065" y="1350" width="14" height="17" fill="#fff" stroke="#1e9a3a" stroke-width="0.8"/><text x="1072" y="1361" text-anchor="middle" font-size="7" class="b" fill="#222">۱.۱</text>
<g class="ax" text-anchor="end">
<text x="693" y="1286">۱۲۰</text><text x="693" y="1296">۱۱۵</text><text x="693" y="1307">۱۱۰</text><text x="693" y="1317">۱۰۵</text><text x="693" y="1327">۱۰۰</text><text x="693" y="1338">۹۵</text><text x="693" y="1348">۹۰</text><text x="693" y="1358">۸۵</text><text x="693" y="1368">۸۰</text><text x="693" y="1379">۷۵</text><text x="693" y="1389">۷۰</text>
</g>
<g class="ax"><text x="1090" y="1286">۳۵</text><text x="1090" y="1311">۲۵</text><text x="1090" y="1337">۱۵</text><text x="1090" y="1363">۵</text><text x="1090" y="1389">-۵</text></g>
<text transform="translate(668,1338) rotate(-90)" direction="rtl" text-anchor="middle" font-size="7" fill="#444">(میلیون ریال)</text>
<g class="dt">
<text transform="translate(709,1394) rotate(-90)" text-anchor="end">۱۴۰۲/۰۳/۱۷</text><text transform="translate(733,1394) rotate(-90)" text-anchor="end">۱۴۰۲/۰۳/۱۹</text><text transform="translate(758,1394) rotate(-90)" text-anchor="end">۱۴۰۲/۰۳/۲۱</text><text transform="translate(783,1394) rotate(-90)" text-anchor="end">۱۴۰۲/۰۳/۲۳</text><text transform="translate(807,1394) rotate(-90)" text-anchor="end">۱۴۰۲/۰۳/۲۵</text><text transform="translate(832,1394) rotate(-90)" text-anchor="end">۱۴۰۲/۰۳/۲۷</text><text transform="translate(856,1394) rotate(-90)" text-anchor="end">۱۴۰۲/۰۳/۲۹</text><text transform="translate(881,1394) rotate(-90)" text-anchor="end">۱۴۰۲/۰۳/۳۱</text><text transform="translate(906,1394) rotate(-90)" text-anchor="end">۱۴۰۲/۰۴/۰۲</text><text transform="translate(930,1394) rotate(-90)" text-anchor="end">۱۴۰۲/۰۴/۰۴</text><text transform="translate(955,1394) rotate(-90)" text-anchor="end">۱۴۰۲/۰۴/۰۶</text><text transform="translate(980,1394) rotate(-90)" text-anchor="end">۱۴۰۲/۰۴/۰۸</text><text transform="translate(1004,1394) rotate(-90)" text-anchor="end">۱۴۰۲/۰۴/۱۰</text><text transform="translate(1029,1394) rotate(-90)" text-anchor="end">۱۴۰۲/۰۴/۱۲</text><text transform="translate(1053,1394) rotate(-90)" text-anchor="end">۱۴۰۲/۰۴/۱۴</text><text transform="translate(1078,1394) rotate(-90)" text-anchor="end">۱۴۰۲/۰۴/۱۶</text>
</g>
<rect x="803" y="1456" width="8" height="8" fill="#1e9a3a"/><text x="814" y="1463" class="lg">حباب طلای آب شده</text>
<line x1="898" y1="1460" x2="910" y2="1460" stroke="#f26a1b" stroke-width="1.5"/><text x="913" y="1463" class="lg">طلای آب شده-متقال</text>

<!-- FOOTER -->
<g fill="#8f86e8" stroke="#8f86e8">
<circle cx="145" cy="1521" r="13" fill="none" stroke-width="2"/>
<ellipse cx="145" cy="1521" rx="6" ry="13" fill="none" stroke-width="1.5"/>
<line x1="132" y1="1521" x2="158" y2="1521" stroke-width="1.5"/>
<rect x="376" y="1512" width="24" height="18" fill="none" stroke-width="2"/>
<polyline points="376,1512 388,1523 400,1512" fill="none" stroke-width="2"/>
<path d="M641,1510 Q638,1522 652,1534 L658,1530 L652,1522 L648,1524 Q644,1518 646,1514 L650,1512 L646,1506 Z" stroke="none"/>
<path d="M893,1532 L884,1517 A9,9 0 1 1 902,1517 Z" stroke="none"/>
<circle cx="893" cy="1514" r="3.5" fill="#2b2190" stroke="none"/>
</g>
<g fill="#8f86e8" font-size="17">
<text x="173" y="1528" style="font-family:'Liberation Sans',sans-serif">www.algocm.com</text>
<text x="421" y="1528" style="font-family:'Liberation Sans',sans-serif">info@algocm.com</text>
<text x="805" y="1513" text-anchor="end" font-size="15">۰۲۱ ۶۶ ۹۷ ۲۶ ۵۵</text>
<text x="805" y="1538" direction="rtl" text-anchor="start" font-size="15">فکس ۶۶ ۹۷ ۲۸ ۰۴</text>
<text x="1078" y="1515" direction="rtl" text-anchor="start" font-size="13">خیابان ولیعصر، خیابان بزرگمهر،</text>
<text x="1078" y="1537" direction="rtl" text-anchor="start" font-size="13">پلاک ۱۶، طبقه چهارم، واحد ۴۱۰</text>
</g>
</svg>
</body></html>
